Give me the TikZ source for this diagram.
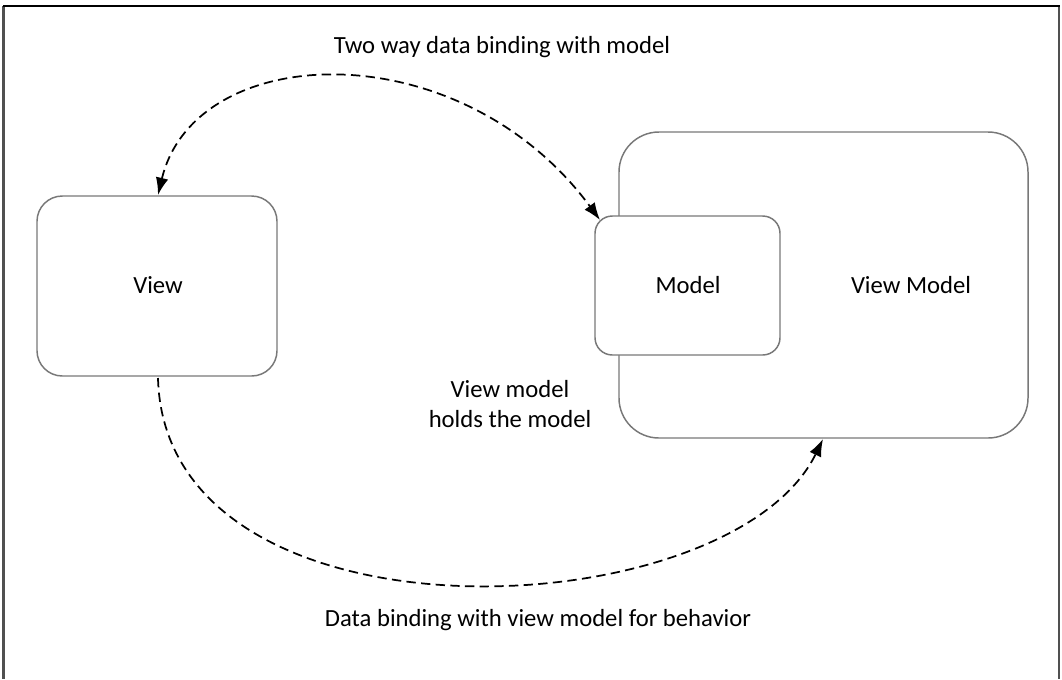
\documentclass[tikz,border=0pt]{standalone}
\usepackage{fontspec}
\setmainfont{Carlito}
\usetikzlibrary{arrows.meta}
\definecolor{boxgray}{RGB}{120,120,120}
\definecolor{framegray}{RGB}{80,80,80}
\tikzset{
  box/.style={draw=boxgray, line width=1.1pt, fill=white},
  lbl/.style={font=\fontsize{18.5}{22.5}\selectfont, align=center, inner sep=0pt},
  bind/.style={dash pattern=on 7pt off 4pt, line width=1.3pt, black},
  tip/.style={-{Latex[length=13pt,width=9.5pt]}},
  tips/.style={{Latex[length=13pt,width=9.5pt]}-{Latex[length=13pt,width=9.5pt]}}
}
\begin{document}
\begin{tikzpicture}[x=0.75pt,y=-0.75pt]
\useasboundingbox (0,0) rectangle (1062,679);
% frame
\draw[framegray, line width=1.6pt] (3.5,6) -- (3.5,679);
\draw[framegray, line width=1.6pt] (1059,6) -- (1059,679);
\draw[black, line width=1.2pt] (3,6) -- (1060,6);
% boxes
\draw[box, rounded corners=19pt] (37,196) rectangle (277,376);
\node[lbl] (view) at (158,285) {View};
\draw[box, rounded corners=30pt] (619,132) rectangle (1028,438);
\node[lbl] (vm) at (911,285) {View Model};
\draw[box, rounded corners=13pt] (595,216) rectangle (780,355);
\node[lbl] (model) at (688,285) {Model};
\coordinate (viewtop) at (158,195);
\coordinate (viewbot) at (158,378);
\coordinate (modelcorner) at (600,220);
\coordinate (vmbot) at (823,439);
% labels
\node[lbl] (t1) at (502,47) {Two way data binding with model};
\node[lbl] (t2) at (538,620) {Data binding with view model for behavior};
\node[lbl] (t3) at (510,404) {View model\\holds the model};
% connectors
\draw[bind, tips] (viewtop) .. controls (195,40) and (460,30) .. (modelcorner);
\draw[bind, tip] (viewbot) .. controls (165,655) and (730,630) .. (vmbot);
\end{tikzpicture}
\end{document}
